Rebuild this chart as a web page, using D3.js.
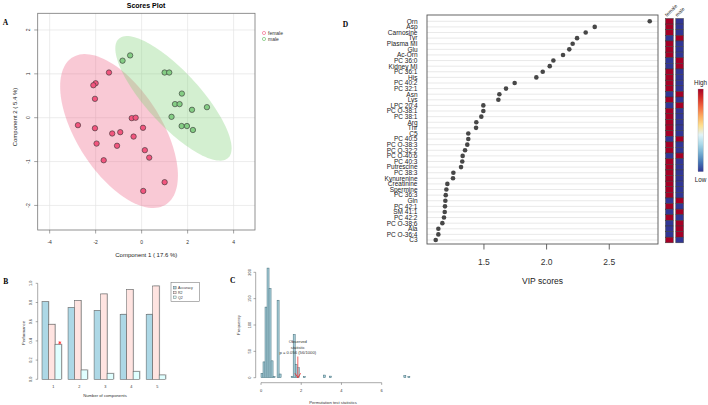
<!DOCTYPE html>
<html>
<head>
<meta charset="utf-8">
<script src="https://cdn.jsdelivr.net/npm/d3@7"></script>
<style>
  body { margin: 0; background: #fff; }
  svg { display: block; font-family: "Liberation Sans", Arial, sans-serif; }
</style>
</head>
<body>
<svg id="fig" width="708" height="405"></svg>
<script>
// ---- A: PLS-DA scores ----
var femaleX = [-1.42, -2.0, -2.10, -2.03, -2.77, -2.03, -1.96, -1.65, -1.28, -0.93, -1.07, -0.43, -0.26, -0.35, 0.06, 0.14, 0.33, 1.0, 0.07];
var femaleY = [1.03, 0.785, 0.74, 0.43, -0.17, -0.24, -0.59, -0.97, -0.36, -0.33, -0.64, -0.01, 0.0, -0.43, -0.23, -0.74, -0.91, -1.47, -1.67];
var maleX = [-0.50, -0.83, 1.0, 1.20, 1.75, 1.45, 1.65, 2.19, 2.84, 1.30, 1.74, 1.97, 2.23];
var maleY = [1.42, 1.30, 1.03, 1.03, 0.55, 0.31, 0.31, 0.18, 0.24, 0.02, -0.19, -0.19, -0.28];
var scoreTicksX = [-4, -2, 0, 2, 4];
var scoreTicksY = [-2, -1, 0, 1, 2];

// ---- B: cross validation ----
var nComp = [1, 2, 3, 4, 5];
var measures = ["Accuracy", "R2", "Q2"];
var accuracy = [0.808, 0.746, 0.715, 0.677, 0.677];
var r2 = [0.573, 0.819, 0.889, 0.933, 0.972];
var q2 = [0.364, 0.097, 0.062, 0.083, 0.045];

// ---- C: permutation test ----
var permBinStart = [0.0, 0.1, 0.2, 0.3, 0.4, 0.5, 0.6, 0.8, 0.9, 1.5, 1.6, 1.7, 1.8, 2.1, 3.1, 3.4, 7.1, 7.3];
var permCount = [8, 30, 134, 208, 169, 32, 2, 147, 7, 2, 82, 25, 19, 2, 5, 3, 4, 2];
var permBinWidth = 0.1;
var observedStat = 1.83;

// ---- D: VIP scores ----
var metabolites = ["Orn","Asp","Carnosine","Tyr","Plasma MI","Glu","Ac-Orn","PC 36:0","Kidney MI","PC 36:1","His","PC 40:2","PC 32:1","Asn","Lys","LPC 20:4","PC O-38:1","PC 38:1","Arg","Thr","C5","PC 40:5","PC O-38:3","PC O-32:2","PC O-40:6","PC 40:3","Putrescine","PC 38:3","Kynurenine","Creatinine","Spermine","PC 36:3","Gln","PC 42:1","SM 41:1","PC 42:2","PC O-38:6","Ala","PC O-36:4","C3"];
var vipScores = [2.823,2.384,2.312,2.243,2.208,2.181,2.131,2.054,2.025,1.969,1.918,1.745,1.676,1.623,1.615,1.495,1.495,1.479,1.439,1.437,1.375,1.375,1.367,1.349,1.330,1.327,1.317,1.256,1.253,1.208,1.200,1.195,1.192,1.189,1.187,1.181,1.168,1.136,1.136,1.115];
var femaleHigh = [1,1,1,0,1,1,1,0,0,1,1,1,1,0,1,0,1,1,1,1,1,0,1,1,0,1,1,1,1,1,1,1,0,1,0,1,0,0,0,1];
var groups = ["female", "male"];
var vipTicks = [1.5, 2.0, 2.5];

var svg = d3.select("#fig");

function panelLetter(t, x, y) {
  svg.append("text").attr("x", x).attr("y", y).text(t)
    .style("font-family", "'Liberation Serif', serif").style("font-weight", 700).style("font-size", "7.5px");
}

// ================= A =================
(function() {
  var x = d3.scaleLinear().domain([-4.52, 4.93]).range([37.7, 255]);
  var y = d3.scaleLinear().domain([-2.56, 2.38]).range([230, 13.3]);
  var g = svg.append("g");

  g.append("clipPath").attr("id", "clipA").append("rect")
    .attr("x", 37.7).attr("y", 13.3).attr("width", 255 - 37.7).attr("height", 230 - 13.3);

  g.selectAll(".gx").data(scoreTicksX).enter().append("line")
    .attr("x1", d => x(d)).attr("x2", d => x(d)).attr("y1", 13.3).attr("y2", 230)
    .attr("stroke", "#e4e4e4").attr("stroke-width", 0.7);
  g.selectAll(".gy").data(scoreTicksY).enter().append("line")
    .attr("y1", d => y(d)).attr("y2", d => y(d)).attr("x1", 37.7).attr("x2", 255)
    .attr("stroke", "#e4e4e4").attr("stroke-width", 0.7);

  // 95% confidence ellipse from each group's covariance
  var k = Math.sqrt(-2 * Math.log(0.05));
  function ellipse(xs, ys) {
    var mx = d3.mean(xs), my = d3.mean(ys), n = xs.length;
    var sxx = d3.sum(xs, v => (v - mx) * (v - mx)) / (n - 1);
    var syy = d3.sum(ys, v => (v - my) * (v - my)) / (n - 1);
    var sxy = d3.sum(xs, (v, i) => (v - mx) * (ys[i] - my)) / (n - 1);
    var a = Math.sqrt(sxx), b = sxy / a, c = Math.sqrt(syy - b * b);
    return d3.range(0, 120).map(function(i) {
      var t = i / 120 * 2 * Math.PI;
      return [x(mx + k * a * Math.cos(t)), y(my + k * (b * Math.cos(t) + c * Math.sin(t)))];
    });
  }
  var line = d3.line().curve(d3.curveLinearClosed);
  var eg = g.append("g").attr("clip-path", "url(#clipA)");
  eg.append("path").attr("d", line(ellipse(femaleX, femaleY))).attr("fill", "rgb(238,101,135)").attr("fill-opacity", 0.35);
  eg.append("path").attr("d", line(ellipse(maleX, maleY))).attr("fill", "rgb(129,209,121)").attr("fill-opacity", 0.35);

  g.selectAll(".pf").data(femaleX).enter().append("circle")
    .attr("cx", d => x(d)).attr("cy", (d, i) => y(femaleY[i])).attr("r", 2.7)
    .attr("fill", "#f2557e").attr("stroke", "#333").attr("stroke-width", 0.6);
  g.selectAll(".pm").data(maleX).enter().append("circle")
    .attr("cx", d => x(d)).attr("cy", (d, i) => y(maleY[i])).attr("r", 2.7)
    .attr("fill", "#84cd84").attr("stroke", "#333").attr("stroke-width", 0.6);

  g.append("rect").attr("x", 37.7).attr("y", 13.3).attr("width", 255 - 37.7).attr("height", 230 - 13.3)
    .attr("fill", "none").attr("stroke", "#777").attr("stroke-width", 0.8);

  g.selectAll(".tx").data(scoreTicksX).enter().append("line")
    .attr("x1", d => x(d)).attr("x2", d => x(d)).attr("y1", 230).attr("y2", 233.5)
    .attr("stroke", "#666").attr("stroke-width", 0.6);
  g.selectAll(".lx").data(scoreTicksX).enter().append("text")
    .attr("x", d => x(d)).attr("y", 244).attr("text-anchor", "middle")
    .style("font-size", "5px").attr("fill", "#333").text(d => d);
  g.selectAll(".ty").data(scoreTicksY).enter().append("line")
    .attr("y1", d => y(d)).attr("y2", d => y(d)).attr("x1", 37.7).attr("x2", 34.2)
    .attr("stroke", "#666").attr("stroke-width", 0.6);
  g.selectAll(".ly").data(scoreTicksY).enter().append("text")
    .attr("transform", d => "translate(29.5," + y(d) + ") rotate(-90)")
    .attr("text-anchor", "middle").style("font-size", "5px").attr("fill", "#333").text(d => d);

  g.append("text").attr("x", 146.3).attr("y", 257).attr("text-anchor", "middle")
    .style("font-size", "6px").attr("fill", "#222").text("Component 1 ( 17.6 %)");
  g.append("text").attr("transform", "translate(17,117) rotate(-90)").attr("text-anchor", "middle")
    .style("font-size", "6px").attr("fill", "#222").text("Component 2 ( 5.4 %)");
  g.append("text").attr("x", 146).attr("y", 7.5).attr("text-anchor", "middle")
    .style("font-size", "7px").style("font-weight", 700).text("Scores Plot");

  var leg = g.selectAll(".leg").data(groups).enter().append("g")
    .attr("transform", (d, i) => "translate(264," + (33 + i * 6) + ")");
  leg.append("circle").attr("r", 1.6).attr("fill", "none").attr("stroke-width", 0.6)
    .attr("stroke", (d, i) => i ? "#5cb85c" : "#f2557e");
  leg.append("text").attr("x", 4).attr("dy", "0.35em").style("font-size", "5px").attr("fill", "#333").text(d => d);

  panelLetter("A", 2.7, 25);
})();

// ================= B =================
(function() {
  var y = d3.scaleLinear().domain([0, 1]).range([379.3, 283.3]);
  var x0 = d3.scaleBand().domain(nComp).range([38.75, 168.95]).paddingInner(0.25).paddingOuter(0.125);
  var x1 = d3.scaleBand().domain(measures).range([0, x0.bandwidth()]);
  var values = { Accuracy: accuracy, R2: r2, Q2: q2 };
  var fills = { Accuracy: "#add8e6", R2: "#ffe4e1", Q2: "#e0ffff" };
  var g = svg.append("g");

  var cells = [];
  nComp.forEach(function(c, i) {
    measures.forEach(function(m) { cells.push({ c: c, m: m, v: values[m][i] }); });
  });
  g.selectAll(".sh").data(cells).enter().append("rect")
    .attr("x", d => x0(d.c) + x1(d.m) + 0.9).attr("y", d => y(d.v) - 0.6)
    .attr("width", x1.bandwidth()).attr("height", d => y(0) - y(d.v) + 0.6)
    .attr("fill", "#c8c8c8");
  g.selectAll(".bar").data(cells).enter().append("rect")
    .attr("x", d => x0(d.c) + x1(d.m)).attr("y", d => y(d.v))
    .attr("width", x1.bandwidth()).attr("height", d => y(0) - y(d.v))
    .attr("fill", d => fills[d.m]).attr("stroke", "#555").attr("stroke-width", 0.5);

  // best Q2 marker
  g.append("path").attr("d", d3.symbol().type(d3.symbolAsterisk).size(7)())
    .attr("transform", "translate(" + (x0(1) + x1("Q2") + x1.bandwidth() / 2 + 1.5) + "," + (y(q2[0]) - 1.6) + ")")
    .attr("stroke", "#ff2020").attr("stroke-width", 0.7);

  g.append("line").attr("x1", 37.7).attr("x2", 37.7).attr("y1", y(0)).attr("y2", y(1))
    .attr("stroke", "#555").attr("stroke-width", 0.5);
  var yt = d3.range(0, 6).map(i => i * 0.2);
  g.selectAll(".ty").data(yt).enter().append("line")
    .attr("x1", 37.7).attr("x2", 35.7).attr("y1", d => y(d)).attr("y2", d => y(d))
    .attr("stroke", "#555").attr("stroke-width", 0.5);
  g.selectAll(".ly").data(yt).enter().append("text")
    .attr("transform", d => "translate(32.2," + y(d) + ") rotate(-90)")
    .attr("text-anchor", "middle").style("font-size", "3.8px").attr("fill", "#333").text(d => d.toFixed(1));
  g.selectAll(".lx").data(nComp).enter().append("text")
    .attr("x", d => x0(d) + x0.bandwidth() / 2 + 1.5).attr("y", 388).attr("text-anchor", "middle")
    .style("font-size", "3.8px").attr("fill", "#333").text(d => d);
  g.append("text").attr("x", 105).attr("y", 396.8).attr("text-anchor", "middle")
    .style("font-size", "4.2px").attr("fill", "#333").text("Number of components");
  g.append("text").attr("transform", "translate(24.5,333) rotate(-90)").attr("text-anchor", "middle")
    .style("font-size", "4.2px").attr("fill", "#333").text("Performance");

  var lg = g.append("g").attr("transform", "translate(171,282.7)");
  lg.append("rect").attr("width", 28.5).attr("height", 19).attr("fill", "#fff").attr("stroke", "#666").attr("stroke-width", 0.5);
  var it = lg.selectAll(".it").data(measures).enter().append("g")
    .attr("transform", (d, i) => "translate(2.5," + (5 + i * 4.8) + ")");
  it.append("rect").attr("x", 0).attr("y", -1.3).attr("width", 2.6).attr("height", 2.6)
    .attr("fill", d => fills[d]).attr("stroke", "#555").attr("stroke-width", 0.4);
  it.append("text").attr("x", 4.5).attr("dy", "0.35em").style("font-size", "3.6px").attr("fill", "#333").text(d => d);

  panelLetter("B", 3.3, 284.3);
})();

// ================= C =================
(function() {
  var x = d3.scaleLinear().domain([0, 6]).range([261, 381.7]);
  var y = d3.scaleLinear().domain([0, 200]).range([377.7, 272.3]);
  var g = svg.append("g");

  g.selectAll(".hb").data(permCount).enter().append("rect")
    .attr("x", (d, i) => x(permBinStart[i])).attr("width", x(permBinWidth) - x(0))
    .attr("y", d => y(d)).attr("height", d => y(0) - y(d))
    .attr("fill", "#a8cfda").attr("stroke", "#3f6a76").attr("stroke-width", 0.5);

  g.append("line").attr("x1", 255.7).attr("x2", 255.7).attr("y1", y(0)).attr("y2", y(200))
    .attr("stroke", "#555").attr("stroke-width", 0.5);
  var yt = [0, 50, 100, 150, 200];
  g.selectAll(".ty").data(yt).enter().append("line")
    .attr("x1", 255.7).attr("x2", 253.5).attr("y1", d => y(d)).attr("y2", d => y(d))
    .attr("stroke", "#555").attr("stroke-width", 0.5);
  g.selectAll(".ly").data(yt).enter().append("text")
    .attr("transform", d => "translate(250.6," + y(d) + ") rotate(-90)")
    .attr("text-anchor", "middle").style("font-size", "4px").attr("fill", "#333").text(d => d);

  var xt = [0, 2, 4, 6];
  g.append("line").attr("x1", x(0)).attr("x2", x(6)).attr("y1", 382.7).attr("y2", 382.7)
    .attr("stroke", "#555").attr("stroke-width", 0.5);
  g.selectAll(".tx").data(xt).enter().append("line")
    .attr("x1", d => x(d)).attr("x2", d => x(d)).attr("y1", 382.7).attr("y2", 384.9)
    .attr("stroke", "#555").attr("stroke-width", 0.5);
  g.selectAll(".lx").data(xt).enter().append("text")
    .attr("x", d => x(d)).attr("y", 392.2).attr("text-anchor", "middle")
    .style("font-size", "4px").attr("fill", "#333").text(d => d);
  g.append("text").attr("x", 333).attr("y", 403.6).attr("text-anchor", "middle")
    .style("font-size", "4.2px").attr("fill", "#333").text("Permutation test statistics");
  g.append("text").attr("transform", "translate(239.5,325) rotate(-90)").attr("text-anchor", "middle")
    .style("font-size", "4.2px").attr("fill", "#333").text("Frequency");

  var ox = x(observedStat);
  g.append("line").attr("x1", ox).attr("x2", ox).attr("y1", 356.5).attr("y2", 377.7)
    .attr("stroke", "#f06464").attr("stroke-width", 1);
  g.append("path").attr("d", "M" + (ox - 2.8) + ",373.3L" + ox + ",377.7L" + (ox + 2.8) + ",373.3")
    .attr("fill", "none").attr("stroke", "#f02020").attr("stroke-width", 0.8);
  g.selectAll(".ot").data(["Observed", "statistic", "p = 0.056 (56/1000)"]).enter().append("text")
    .attr("x", ox).attr("y", (d, i) => 343.2 + i * 5.4).attr("text-anchor", "middle")
    .style("font-size", "4.2px").attr("fill", "#333").text(d => d);

  panelLetter("C", 230, 283.3);
})();

// ================= D =================
(function() {
  var x = d3.scaleLinear().domain([1.0455, 2.889]).range([427, 658]);
  var y = d3.scaleBand().domain(metabolites).range([18.5, 242.8]);
  var bw = y.bandwidth();
  var g = svg.append("g");

  g.selectAll(".gl").data(metabolites).enter().append("line")
    .attr("x1", 427).attr("x2", 658).attr("y1", d => y(d) + bw / 2).attr("y2", d => y(d) + bw / 2)
    .attr("stroke", "#e3e3e3").attr("stroke-width", 0.8);
  g.selectAll(".dot").data(metabolites).enter().append("circle")
    .attr("cx", (d, i) => x(vipScores[i])).attr("cy", d => y(d) + bw / 2).attr("r", 2.3)
    .attr("fill", "#474747");
  g.append("rect").attr("x", 427).attr("y", 15).attr("width", 231).attr("height", 229)
    .attr("fill", "none").attr("stroke", "#555").attr("stroke-width", 0.9);

  g.selectAll(".lab").data(metabolites).enter().append("text")
    .attr("x", 417.5).attr("y", d => y(d) + bw / 2).attr("dy", "0.36em").attr("text-anchor", "end")
    .style("font-size", "6.5px").attr("fill", "#222").text(d => d);

  g.selectAll(".tx").data(vipTicks).enter().append("line")
    .attr("x1", d => x(d)).attr("x2", d => x(d)).attr("y1", 244).attr("y2", 249.5)
    .attr("stroke", "#555").attr("stroke-width", 0.9);
  g.selectAll(".lx").data(vipTicks).enter().append("text")
    .attr("x", d => x(d)).attr("y", 265).attr("text-anchor", "middle")
    .style("font-size", "8.5px").attr("fill", "#333").text(d => d.toFixed(1));
  g.append("text").attr("x", 542.5).attr("y", 284).attr("text-anchor", "middle")
    .style("font-size", "8.5px").attr("fill", "#222").text("VIP scores");

  // group heatmap
  var hx = d3.scaleBand().domain(groups).range([665.5, 683.5]).paddingInner(0.25);
  var hot = "#a50026", cold = "#313695";
  var cells = [];
  metabolites.forEach(function(m, i) {
    cells.push({ m: m, g: "female", hi: femaleHigh[i] });
    cells.push({ m: m, g: "male", hi: 1 - femaleHigh[i] });
  });
  g.selectAll(".hc").data(cells).enter().append("rect")
    .attr("x", d => hx(d.g)).attr("y", d => y(d.m)).attr("width", hx.bandwidth()).attr("height", bw)
    .attr("fill", d => d.hi ? hot : cold).attr("stroke", "#3a3a3a").attr("stroke-width", 0.5);
  g.selectAll(".hl").data(groups).enter().append("text")
    .attr("transform", d => "translate(" + (hx(d) + 1.5) + ",17) rotate(-45)")
    .style("font-size", "5px").attr("fill", "#222").text(d => d);

  // colour key
  var ramp = ["#a50026","#d73027","#f46d43","#fdae61","#fee090","#e0f3f8","#abd9e9","#74add1","#4575b4","#313695"];
  var grad = svg.append("defs").append("linearGradient").attr("id", "key")
    .attr("x1", 0).attr("x2", 0).attr("y1", 0).attr("y2", 1);
  grad.selectAll("stop").data(ramp).enter().append("stop")
    .attr("offset", (d, i) => i / (ramp.length - 1)).attr("stop-color", d => d);
  g.append("rect").attr("x", 698).attr("y", 89).attr("width", 5.3).attr("height", 82.7)
    .attr("fill", "url(#key)").attr("stroke", "#999").attr("stroke-width", 0.3);
  g.append("text").attr("x", 700.6).attr("y", 85).attr("text-anchor", "middle")
    .style("font-size", "6.3px").attr("fill", "#222").text("High");
  g.append("text").attr("x", 700.6).attr("y", 181.5).attr("text-anchor", "middle")
    .style("font-size", "6.3px").attr("fill", "#222").text("Low");

  panelLetter("D", 342.7, 26.7);
})();
</script>
</body>
</html>
